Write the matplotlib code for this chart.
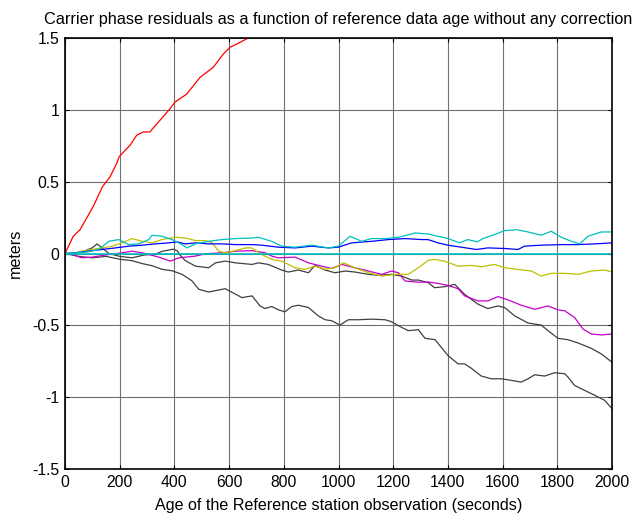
import matplotlib
matplotlib.use("Agg")
import matplotlib.pyplot as plt

plt.rcParams["font.family"] = ["Liberation Sans", "DejaVu Sans"]

# values (time in s, residual in m)
red_x = [0, 30, 55, 103, 137, 165, 189, 198, 238, 262, 286, 310, 347, 384, 402, 445, 494, 542, 579, 603, 640, 670, 700]
red_y = [0, 0.12, 0.166, 0.327, 0.465, 0.535, 0.628, 0.674, 0.754, 0.823, 0.846, 0.846, 0.927, 1.008, 1.054, 1.11,
         1.227, 1.296, 1.389, 1.435, 1.47, 1.50, 1.55]

cyan_x = [0, 38, 86, 123, 160, 196, 233, 269, 306, 318, 355, 391, 428, 446, 477, 525, 574, 623, 684, 707, 756, 792,
          841, 902, 963, 999, 1042, 1085, 1121, 1170, 1219, 1280, 1327, 1364, 1400, 1443, 1473, 1507, 1528, 1571, 1607,
          1650, 1693, 1741, 1778, 1815, 1851, 1882, 1912, 1961, 2000]
cyan_y = [0, 0.005, 0.012, 0.028, 0.085, 0.097, 0.062, 0.067, 0.097, 0.127, 0.12, 0.097, 0.062, 0.039, 0.067, 0.085,
          0.097, 0.104, 0.108, 0.113, 0.085, 0.051, 0.044, 0.058, 0.039, 0.051, 0.12, 0.085, 0.104, 0.104, 0.113, 0.143,
          0.136, 0.12, 0.104, 0.074, 0.097, 0.081, 0.104, 0.132, 0.159, 0.166, 0.15, 0.127, 0.155, 0.113, 0.085, 0.067,
          0.12, 0.15, 0.15]

blue_x = [0, 38, 86, 135, 184, 233, 282, 330, 379, 410, 440, 477, 525, 574, 623, 684, 719, 780, 841, 902, 963, 999,
          1048, 1121, 1182, 1243, 1304, 1327, 1364, 1400, 1449, 1504, 1546, 1607, 1656, 1680, 1741, 1815, 1876, 1937, 2000]
blue_y = [0, 0.005, 0.016, 0.028, 0.039, 0.051, 0.058, 0.067, 0.074, 0.081, 0.067, 0.074, 0.067, 0.067, 0.062, 0.062,
          0.058, 0.044, 0.039, 0.051, 0.039, 0.044, 0.074, 0.085, 0.097, 0.104, 0.097, 0.097, 0.074, 0.058, 0.044, 0.028,
          0.039, 0.035, 0.028, 0.051, 0.058, 0.062, 0.062, 0.067, 0.074]

yellow_x = [0, 26, 62, 99, 135, 172, 208, 245, 282, 318, 355, 404, 440, 477, 513, 538, 562, 586, 623, 660, 682, 719,
            756, 792, 841, 877, 914, 951, 987, 1018, 1060, 1109, 1158, 1207, 1255, 1292, 1328, 1351, 1388, 1437, 1485,
            1522, 1571, 1607, 1656, 1705, 1741, 1778, 1827, 1876, 1924, 1973, 2000]
yellow_y = [0, 0.0, 0.016, 0.028, 0.039, 0.051, 0.074, 0.104, 0.085, 0.074, 0.097, 0.113, 0.108, 0.09, 0.09, 0.074,
            0.016, 0.005, 0.02, 0.039, 0.039, -0.007, -0.041, -0.053, -0.099, -0.11, -0.088, -0.11, -0.099, -0.065,
            -0.099, -0.134, -0.157, -0.145, -0.145, -0.099, -0.048, -0.041, -0.053, -0.088, -0.083, -0.092, -0.076,
            -0.099, -0.111, -0.122, -0.157, -0.138, -0.138, -0.145, -0.122, -0.115, -0.129]

magenta_x = [0, 26, 62, 99, 160, 208, 245, 282, 343, 385, 416, 477, 513, 574, 623, 684, 731, 756, 780, 841, 890, 938,
             975, 1012, 1060, 1109, 1158, 1194, 1219, 1243, 1292, 1327, 1364, 1400, 1437, 1461, 1510, 1546, 1583, 1620,
             1668, 1717, 1766, 1802, 1827, 1863, 1894, 1924, 1961, 2000]
magenta_y = [0, -0.007, -0.03, -0.025, -0.007, 0.005, 0.016, 0.005, -0.025, -0.053, -0.03, -0.018, -0.002, 0.005,
             0.016, 0.02, 0.005, -0.018, -0.03, -0.025, -0.065, -0.088, -0.104, -0.076, -0.099, -0.122, -0.145, -0.122,
             -0.134, -0.191, -0.2, -0.198, -0.208, -0.222, -0.245, -0.295, -0.33, -0.33, -0.3, -0.323, -0.36, -0.388,
             -0.365, -0.392, -0.399, -0.445, -0.526, -0.56, -0.567, -0.56]

gray1_x = [0, 26, 62, 100, 117, 135, 160, 200, 245, 290, 330, 355, 395, 410, 420, 440, 477, 525, 550, 586, 623, 684,
           707, 743, 792, 816, 853, 890, 914, 951, 987, 1024, 1060, 1109, 1146, 1194, 1231, 1268, 1292, 1328, 1351, 1388,
           1425, 1461, 1510, 1546, 1583, 1607, 1644, 1693, 1741, 1766, 1802, 1839, 1876, 1924, 1961, 2000]
gray1_y = [0, -0.005, 0.01, 0.04, 0.067, 0.04, 0.0, -0.02, -0.03, -0.01, -0.005, 0.015, 0.03, 0.02, -0.01, -0.05,
           -0.088, -0.099, -0.065, -0.053, -0.065, -0.076, -0.065, -0.076, -0.115, -0.129, -0.115, -0.134, -0.083,
           -0.115, -0.134, -0.122, -0.129, -0.145, -0.152, -0.145, -0.157, -0.185, -0.185, -0.203, -0.238, -0.231,
           -0.215, -0.284, -0.353, -0.383, -0.365, -0.376, -0.434, -0.484, -0.498, -0.537, -0.59, -0.6, -0.623, -0.66,
           -0.699, -0.757]

gray2_x = [0, 50, 100, 150, 200, 245, 282, 318, 355, 391, 428, 464, 489, 525, 586, 647, 684, 713, 731, 756, 780, 804,
           829, 853, 890, 926, 951, 975, 1005, 1036, 1072, 1121, 1170, 1194, 1219, 1255, 1292, 1316, 1353, 1400, 1437,
           1461, 1485, 1522, 1559, 1595, 1632, 1668, 1693, 1717, 1754, 1790, 1827, 1839, 1863, 1900, 1937, 1973, 2000]
gray2_y = [0, -0.02, -0.03, -0.02, -0.04, -0.05, -0.07, -0.085, -0.11, -0.12, -0.145, -0.19, -0.249, -0.268, -0.245,
           -0.307, -0.295, -0.365, -0.383, -0.369, -0.392, -0.406, -0.369, -0.36, -0.376, -0.434, -0.461, -0.468,
           -0.498, -0.461, -0.461, -0.457, -0.461, -0.475, -0.503, -0.537, -0.53, -0.59, -0.6, -0.71, -0.768, -0.768,
           -0.798, -0.853, -0.872, -0.872, -0.883, -0.895, -0.872, -0.844, -0.853, -0.83, -0.837, -0.86, -0.918,
           -0.953, -0.987, -1.022, -1.08]

ref_x = [0, 2000]
ref_y = [0, 0]

x_ticks = [0, 200, 400, 600, 800, 1000, 1200, 1400, 1600, 1800, 2000]
y_ticks = [-1.5, -1, -0.5, 0, 0.5, 1, 1.5]
y_tick_labels = ["-1.5", "-1", "-0.5", "0", "0.5", "1", "1.5"]

fig = plt.figure(figsize=(6.32, 5.15), dpi=100)
ax = fig.add_axes([0.1029, 0.0893, 0.8655, 0.8369])

lw = 0.9
ax.plot(gray2_x, gray2_y, color="#404040", lw=lw)
ax.plot(gray1_x, gray1_y, color="#404040", lw=lw)
ax.plot(magenta_x, magenta_y, color="#C800C8", lw=lw)
ax.plot(yellow_x, yellow_y, color="#BFBF00", lw=lw)
ax.plot(blue_x, blue_y, color="#0000FF", lw=lw)
ax.plot(cyan_x, cyan_y, color="#00BFBF", lw=lw)
ax.plot(red_x, red_y, color="#FF0000", lw=lw)
ax.plot(ref_x, ref_y, color="#00BFBF", lw=1.2)

ax.set_xlim(0, 2000)
ax.set_ylim(-1.5, 1.5)
ax.set_xticks(x_ticks)
ax.set_yticks(y_ticks)
ax.set_yticklabels(y_tick_labels)
ax.grid(True, color="#707070", lw=0.8)
ax.set_axisbelow(True)
ax.tick_params(direction="in", length=3, top=True, right=True, labelsize=11.3, pad=4)
for s in ax.spines.values():
    s.set_linewidth(1.2)

ax.set_title("Carrier phase residuals as a function of reference data age without any correction",
             fontsize=11.7, pad=10)
ax.set_xlabel("Age of the Reference station observation (seconds)", fontsize=11.6, labelpad=6)
ax.set_ylabel("meters", fontsize=11.6, labelpad=7)

fig.savefig("out.png", dpi=100)
